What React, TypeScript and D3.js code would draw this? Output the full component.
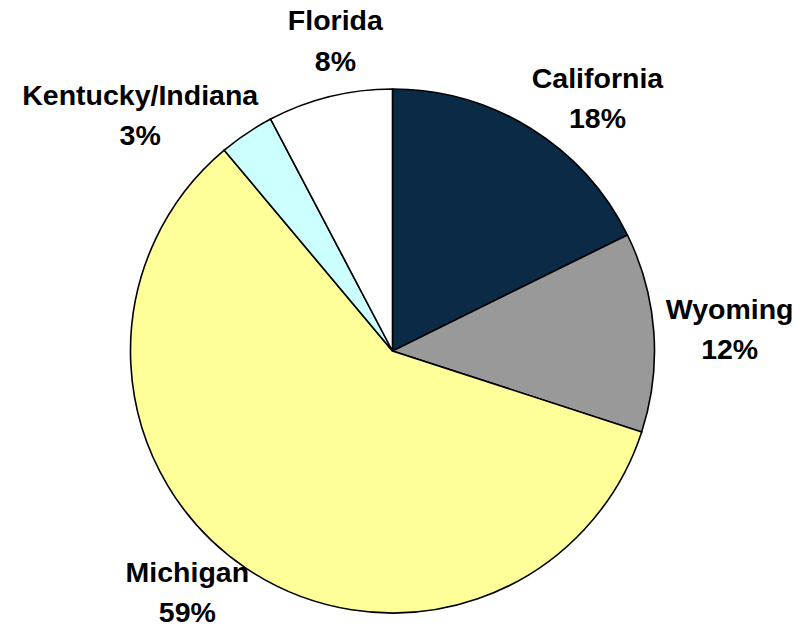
import React from 'react';
import * as d3 from 'd3';

// slice order clockwise from 12 o'clock
const states = ['California', 'Wyoming', 'Michigan', 'Kentucky/Indiana', 'Florida'];
const shares = [17.7, 12.3, 58.9, 3.4, 7.7];
const fills = ['#0b2a45', '#999999', '#ffff99', '#ccffff', '#ffffff'];

// hand nudges for the label blocks (Excel "best fit" placement)
const labelNudge: [number, number][] = [
  [35, 21],
  [16, 2],
  [-25, -25],
  [-73, 32],
  [20, 3],
];

const width = 808;
const height = 629;
const cx = 392.5;
const cy = 351;
const radius = 262;

export default function App() {
  const data = states.map((name, i) => ({ name, value: shares[i], fill: fills[i] }));
  const total = d3.sum(data, d => d.value);

  const pie = d3.pie<any>().value(d => d.value).sort(null);
  const arc = d3.arc<any>().innerRadius(0).outerRadius(radius);
  const labelArc = d3.arc<any>().innerRadius(radius + 60).outerRadius(radius + 60);
  const arcs = pie(data);

  return (
    <svg
      width={width}
      height={height}
      style={{ position: 'absolute', left: 0, top: 0, background: '#fff' }}
    >
      <g transform={`translate(${cx},${cy})`}>
        {arcs.map((d, i) => (
          <path key={i} d={arc(d) || ''} fill={d.data.fill} stroke="#000" strokeWidth={1.6} />
        ))}
        {arcs.map((d, i) => {
          const [x, y] = labelArc.centroid(d);
          const lx = x + labelNudge[i][0];
          const ly = y + labelNudge[i][1];
          const pct = Math.round((d.data.value / total) * 100);
          return (
            <text
              key={'l' + i}
              x={lx}
              y={ly}
              textAnchor="middle"
              fontFamily="'Liberation Sans', Arial, sans-serif"
              fontWeight="bold"
              fontSize={28.5}
              fill="#000"
            >
              <tspan x={lx} y={ly - 11}>{d.data.name}</tspan>
              <tspan x={lx} y={ly + 29.5}>{pct}%</tspan>
            </text>
          );
        })}
      </g>
    </svg>
  );
}
